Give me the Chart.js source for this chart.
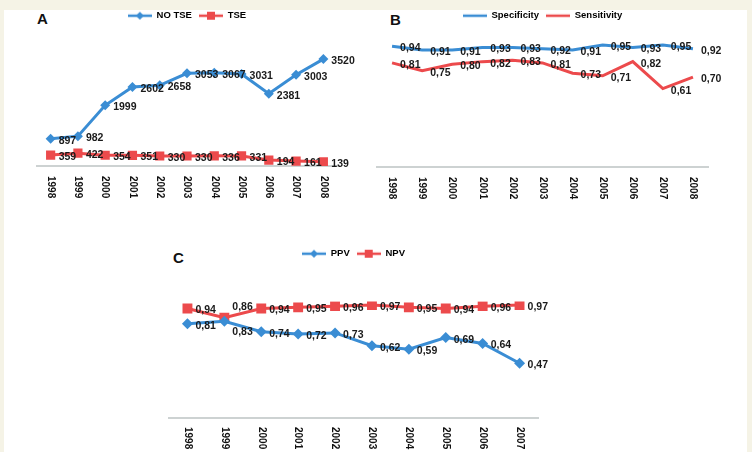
<!DOCTYPE html>
<html lang="en">
<head>
  <meta charset="UTF-8">
  <title>TSE trends, accuracy and predictive values</title>
  <script src="https://cdn.jsdelivr.net/npm/chart.js"></script>
  <style>
    body {
      margin: 0;
      width: 752px;
      height: 452px;
      position: relative;
      overflow: hidden;
      background: #f5f3e6;
      font-family: "Liberation Sans", Arial, sans-serif;
    }
    .sheet {
      position: absolute;
      left: 4px;
      top: 10px;
      width: 743px;
      height: 442px;
      background: #fff;
    }
    canvas { position: absolute; }
    .tag {
      position: absolute;
      font: bold 15px "Liberation Sans", Arial, sans-serif;
      line-height: 1;
      color: #111;
    }
  </style>
</head>
<body>
  <div class="sheet"></div>
  <div class="tag" style="left:37px;top:11px">A</div>
  <div class="tag" style="left:390px;top:12px">B</div>
  <div class="tag" style="left:173px;top:250px">C</div>
  <canvas id="chartA" width="372" height="224" style="left:4px;top:4px"></canvas>
  <canvas id="chartB" width="372" height="224" style="left:374px;top:4px"></canvas>
  <canvas id="chartC" width="420" height="220" style="left:160px;top:232px"></canvas>

  <script>
    // data
    const years = ['1998', '1999', '2000', '2001', '2002', '2003', '2004', '2005', '2006', '2007', '2008'];
    const yearsC = ['1998', '1999', '2000', '2001', '2002', '2003', '2004', '2005', '2006', '2007'];

    const noTse = [897, 982, 1999, 2602, 2658, 3053, 3067, 3031, 2381, 3003, 3520];
    const tse = [359, 422, 354, 351, 330, 330, 336, 331, 194, 161, 139];

    const specificity = [0.94, 0.91, 0.91, 0.93, 0.93, 0.92, 0.91, 0.95, 0.93, 0.95, 0.92];
    const sensitivity = [0.81, 0.75, 0.80, 0.82, 0.83, 0.81, 0.73, 0.71, 0.82, 0.61, 0.70];

    const ppv = [0.81, 0.83, 0.74, 0.72, 0.73, 0.62, 0.59, 0.69, 0.64, 0.47];
    const npv = [0.94, 0.86, 0.94, 0.95, 0.96, 0.97, 0.95, 0.94, 0.96, 0.97];

    const BLUE = '#3a8dd4';
    const RED = '#ec4a4c';
    const FONT = '"Liberation Sans Narrow", "Liberation Sans", Arial, sans-serif';

    Chart.defaults.devicePixelRatio = 1;
    Chart.defaults.animation = false;

    // little line+marker glyph for the legend (Excel style)
    function legendIcon(color, marker) {
      const c = document.createElement('canvas');
      c.width = 24; c.height = 12;
      const g = c.getContext('2d');
      g.strokeStyle = color;
      g.lineWidth = 2.5;
      g.beginPath(); g.moveTo(0, 6); g.lineTo(24, 6); g.stroke();
      g.fillStyle = color;
      if (marker === 'diamond') {
        g.beginPath(); g.moveTo(12, 2); g.lineTo(16, 6); g.lineTo(12, 10); g.lineTo(8, 6); g.closePath(); g.fill();
      } else if (marker === 'square') {
        g.fillRect(8, 2, 8, 8);
      }
      return c;
    }

    function legendOpts(icons) {
      return {
        display: true,
        labels: {
          usePointStyle: true,
          pointStyleWidth: 24,
          boxHeight: 9,
          padding: 7,
          color: '#222',
          font: { family: FONT, size: 9.5, weight: 'bold' },
          generateLabels(chart) {
            return chart.data.datasets.map((ds, i) => ({
              text: ds.label,
              pointStyle: icons[i],
              datasetIndex: i,
              fillStyle: ds.borderColor,
              strokeStyle: ds.borderColor,
              lineWidth: 0,
              hidden: false
            }));
          }
        }
      };
    }

    // extra space under the legend
    function legendGap(gap) {
      return {
        id: 'legendGap',
        beforeInit(chart) {
          const fit = chart.legend.fit;
          chart.legend.fit = function () {
            fit.call(this);
            this.height += gap;
          };
        }
      };
    }

    // year labels written top-to-bottom under the axis
    function verticalTicks(offset) {
      return {
        id: 'verticalTicks',
        afterDraw(chart) {
          const x = chart.scales.x;
          const ctx = chart.ctx;
          ctx.save();
          ctx.font = 'bold 10px ' + FONT;
          ctx.fillStyle = '#111';
          ctx.textAlign = 'left';
          ctx.textBaseline = 'middle';
          x.ticks.forEach((t, i) => {
            ctx.save();
            ctx.translate(x.getPixelForTick(i), x.top + offset);
            ctx.rotate(Math.PI / 2);
            ctx.fillText(x.getLabelForValue(t.value), 0, 0);
            ctx.restore();
          });
          ctx.restore();
        }
      };
    }

    // value labels to the right of each point
    function valueLabels(decimals, nudge) {
      nudge = nudge || {};
      return {
        id: 'valueLabels',
        afterDatasetsDraw(chart) {
          const ctx = chart.ctx;
          ctx.save();
          ctx.font = 'bold 10.5px ' + FONT;
          ctx.fillStyle = '#1a1a1a';
          ctx.textAlign = 'left';
          ctx.textBaseline = 'middle';
          chart.data.datasets.forEach((ds, i) => {
            const meta = chart.getDatasetMeta(i);
            const shift = nudge[i] || {};
            meta.data.forEach((pt, j) => {
              const v = ds.data[j];
              const txt = decimals ? v.toFixed(decimals).replace('.', ',') : String(v);
              const dy = shift[j] !== undefined ? shift[j] : 2;
              ctx.fillText(txt, pt.x + 8, pt.y + dy);
            });
          });
          ctx.restore();
        }
      };
    }

    function makeOptions(cfg) {
      return {
        responsive: false,
        layout: { autoPadding: false, padding: cfg.padding },
        plugins: {
          legend: legendOpts(cfg.icons),
          tooltip: { enabled: false }
        },
        scales: {
          x: {
            offset: true,
            grid: { display: false, drawTicks: false },
            border: { display: true, color: '#cdd2d2', width: 2 },
            ticks: { display: false },
            afterFit(scale) { scale.height = cfg.axisHeight; }
          },
          y: {
            display: false,
            min: 0,
            max: cfg.max
          }
        }
      };
    }

    // A: cases with and without TSE
    new Chart(document.getElementById('chartA'), {
      type: 'line',
      data: {
        labels: years,
        datasets: [
          {
            label: 'NO TSE', data: noTse, borderColor: BLUE, backgroundColor: BLUE,
            borderWidth: 3, pointStyle: 'rectRot', pointRadius: 5, pointBorderWidth: 0, tension: 0
          },
          {
            label: 'TSE', data: tse, borderColor: RED, backgroundColor: RED,
            borderWidth: 3, pointStyle: 'rect', pointRadius: 6.5, pointBorderWidth: 0, tension: 0
          }
        ]
      },
      options: makeOptions({
        padding: { left: 33, right: 39, top: 0, bottom: 0 },
        axisHeight: 62, max: 4000,
        icons: [legendIcon(BLUE, 'diamond'), legendIcon(RED, 'square')]
      }),
      plugins: [legendGap(14), verticalTicks(10), valueLabels(0)]
    });

    // B: specificity / sensitivity
    new Chart(document.getElementById('chartB'), {
      type: 'line',
      data: {
        labels: years,
        datasets: [
          {
            label: 'Specificity', data: specificity, borderColor: BLUE, backgroundColor: BLUE,
            borderWidth: 3, pointRadius: 0, tension: 0
          },
          {
            label: 'Sensitivity', data: sensitivity, borderColor: RED, backgroundColor: RED,
            borderWidth: 3, pointRadius: 0, tension: 0
          }
        ]
      },
      options: makeOptions({
        padding: { left: 3, right: 38, top: 0, bottom: 0 },
        axisHeight: 61, max: 1,
        icons: [legendIcon(BLUE), legendIcon(RED)]
      }),
      plugins: [legendGap(8), verticalTicks(10), valueLabels(2)]
    });

    // C: PPV / NPV
    new Chart(document.getElementById('chartC'), {
      type: 'line',
      data: {
        labels: yearsC,
        datasets: [
          {
            label: 'PPV', data: ppv, borderColor: BLUE, backgroundColor: BLUE,
            borderWidth: 3, pointStyle: 'rectRot', pointRadius: 5.5, pointBorderWidth: 0, tension: 0
          },
          {
            label: 'NPV', data: npv, borderColor: RED, backgroundColor: RED,
            borderWidth: 3, pointStyle: 'rect', pointRadius: 7, pointBorderWidth: 0, tension: 0
          }
        ]
      },
      options: makeOptions({
        padding: { left: 9, right: 42, top: 10, bottom: 0 },
        axisHeight: 34, max: 1,
        icons: [legendIcon(BLUE, 'diamond'), legendIcon(RED, 'square')]
      }),
      plugins: [legendGap(33), verticalTicks(9), valueLabels(2, { 0: { 1: 11 }, 1: { 1: -11 } })]
    });
  </script>
</body>
</html>
